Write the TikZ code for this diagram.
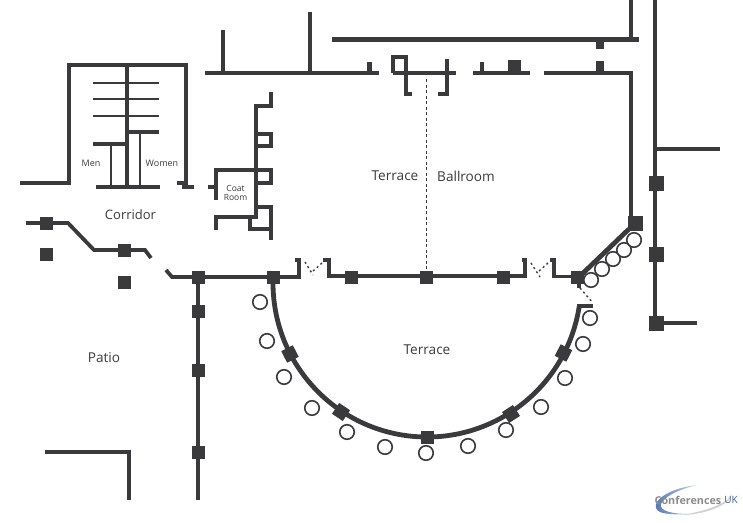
\documentclass[tikz,border=0pt]{standalone}
\usepackage{fontspec}
\setmainfont{Open Sans}
\usetikzlibrary{arrows.meta,calc}
\definecolor{wallgrey}{HTML}{3A3A3C}
\definecolor{logoblue}{HTML}{4F74B0}
\definecolor{logopale}{HTML}{C9D8E6}
\tikzset{
  wall/.style={draw=wallgrey,line width=4.2pt},
  midwall/.style={draw=wallgrey,line width=3.8pt},
  thinwall/.style={draw=wallgrey,line width=2pt},
  doorswing/.style={draw=wallgrey,line width=1.4pt,dash pattern=on 2pt off 3pt},
  column/.style={fill=wallgrey,inner sep=0pt,minimum size=13pt},
  bigcolumn/.style={column,minimum size=15pt},
  seat/.style={circle,draw=wallgrey,fill=white,line width=1.6pt,inner sep=0pt,minimum size=14.5pt},
  roomlabel/.style={text=wallgrey,font=\fontsize{13.6}{15}\selectfont},
  smalllabel/.style={text=wallgrey,font=\fontsize{9}{10}\selectfont,align=center}
}
\begin{document}
\begin{tikzpicture}[x=1pt,y=-1pt]
  \useasboundingbox (0,0) rectangle (743,522);
  % Washrooms
  \draw[wall] (20,183) -- (69,183) -- (69,65) -- (186,65) -- (186,187);
  \draw[wall] (127,65) -- (127,187);
  \draw[wall] (96,187) -- (160,187);
  \draw[midwall] (177,183) -- (186,183);
  \draw[wall] (182,187) -- (194,187);
  \draw[thinwall] (93,83) -- (159,83);
  \draw[thinwall] (93,99) -- (159,99);
  \draw[thinwall] (93,116) -- (159,116);
  \draw[midwall] (127,132) -- (159,132);
  \draw[midwall] (93,144) -- (127,144);
  \draw[thinwall] (111,144) -- (111,187);
  \draw[thinwall] (140,132) -- (140,187);
  % Top walls
  \draw[wall] (205,73) -- (379,73);
  \draw[wall] (223,30) -- (223,73);
  \draw[wall] (310,12) -- (310,73);
  \draw[wall] (369.5,62) -- (369.5,73);
  \draw[wall] (332,39.5) -- (639,39.5);
  \draw[wall] (631,0) -- (631,39.5);
  % Coat room
  \draw[midwall] (271,92) -- (271,106) -- (256,106) -- (256,217) -- (216,217) -- (216,230);
  \draw[midwall] (256,134) -- (271,134) -- (271,146) -- (256,146);
  \draw[midwall] (216,200) -- (216,170) -- (271,170) -- (271,183) -- (256,183);
  \draw[midwall] (208,187) -- (216,187);
  \draw[midwall] (256,207) -- (271,207) -- (271,240);
  \draw[midwall] (271,229) -- (250,229) -- (250,217);
  % Doors on top wall
  \draw[midwall] (393,73) -- (393,57) -- (406,57) -- (406,94) -- (412,94);
  \draw[midwall] (393,73) -- (456,73);
  \draw[midwall] (447,59) -- (447,94) -- (438,94);
  \draw[wall] (473,73) -- (530,73);
  \draw[wall] (482,62) -- (482,73);
  \draw[wall] (544,73) -- (631,73) -- (631,217);
  \draw[wall] (655,0) -- (655,323);
  \draw[wall] (655,149) -- (720,149);
  \draw[wall] (655,323) -- (697,323);
  % Partition of the ballroom
  \draw[draw=wallgrey,line width=1pt,dash pattern=on 3pt off 2.5pt] (426,79) -- (426,276);
  % Corridor
  \draw[midwall] (26,223) -- (68,223) -- (94,250) -- (145,250) -- (151,258);
  \draw[midwall] (166,270) -- (172,277) -- (299,277) -- (299,260) -- (295,260);
  \draw[midwall] (323,260) -- (329,260) -- (329,276) -- (525,276) -- (525,260) -- (522,260);
  \draw[midwall] (550,260) -- (554,260) -- (554,276.5) -- (577,276.5);
  \draw[wall] (198,277) -- (198,500);
  \draw[wall] (45,452) -- (129,452) -- (129,500);
  % Door swings
  \draw[doorswing] (305,262) -- (313,275);
  \draw[doorswing] (322,263) -- (312,272);
  \draw[doorswing] (531,263) -- (540,277);
  \draw[doorswing] (548,263) -- (538,272);
  \draw[doorswing] (580,288) -- (593,303);
  % Outer terrace
  \draw[wall] (579,277) -- (579,288);
  \draw[wall,line width=4.8pt] (579,277) -- (629,229);
  \draw[wall,line width=4.8pt] (273,277) -- (273,283) arc[start angle=180,end angle=351.3,radius=154pt];
  \draw[midwall] (577,306) -- (593,306);
  % Columns
  \foreach \px/\py [count=\i] in {46/223,46/254,124.5/250,124.5/282,198/277,273/277,198/311,198/370,198/452,351/277,426.5/277,503/277,577/277}
    \node[column] (col\i) at (\px,\py) {};
  \foreach \px/\py [count=\i] in {635/223,656/183,656/254,656/323}
    \node[bigcolumn] (bigcol\i) at (\px,\py) {};
  \node[column,rotate=27] (arccol1) at (290,354) {};
  \node[column,rotate=56] (arccol2) at (341,412) {};
  \node[column] (arccol3) at (427,437) {};
  \node[column,rotate=-57] (arccol4) at (511,414) {};
  \node[column,rotate=-27] (arccol5) at (563.5,353) {};
  % Stubs on the top walls
  \node[fill=wallgrey,inner sep=0pt,minimum width=12.5pt,minimum height=13pt] (stub1) at (514.5,66) {};
  \node[fill=wallgrey,inner sep=0pt,minimum width=8pt,minimum height=10pt] (stub2) at (600,44) {};
  \node[fill=wallgrey,inner sep=0pt,minimum width=8pt,minimum height=12pt] (stub3) at (600,67) {};
  % Seats along the terrace
  \foreach \px/\py [count=\i] in {260/302,267/341,284/377,312/408,347/432,385/447,426/453,468/446,506/430,541/407,565/378,583/344,590/318,591/280,602/269,613/259,624/250,634/240}
    \node[seat] (seat\i) at (\px,\py) {};
  % Room names
  \node[roomlabel] (terraceroom) at (395,176) {Terrace};
  \node[roomlabel] (ballroom) at (466,176) {Ballroom};
  \node[roomlabel] (terraceout) at (427,350) {Terrace};
  \node[roomlabel] (patio) at (104,358) {Patio};
  \node[roomlabel,font=\fontsize{13}{15}\selectfont] (corridor) at (130.5,215) {Corridor};
  \node[smalllabel] (men) at (91,163) {Men};
  \node[smalllabel] (women) at (162,163) {Women};
  \node[smalllabel,font=\fontsize{8.5}{9.2}\selectfont] (coat) at (235.5,193) {Coat\\Room};
  % Logo
  \shade[left color=logoblue,right color=logopale] (697,485) .. controls (670,488) and (653,500) .. (656,508) .. controls (658,514) and (670,515) .. (690,514) .. controls (672,514) and (659,511) .. (661,504) .. controls (663,497) and (680,489) .. (697,485);
  \fill[black!18] (680,515) .. controls (705,515) and (730,505) .. (732,494) .. controls (728,503) and (705,512) .. (680,515);
  \node[inner sep=0pt,text=black!45,font=\fontsize{10.8}{12}\selectfont\bfseries] (logo) at (688,500) {Conferences};
  \node[inner sep=0pt,text=logoblue!80!black,font=\fontsize{10}{12}\selectfont] (logouk) at (731,499.5) {UK};
\end{tikzpicture}
\end{document}
